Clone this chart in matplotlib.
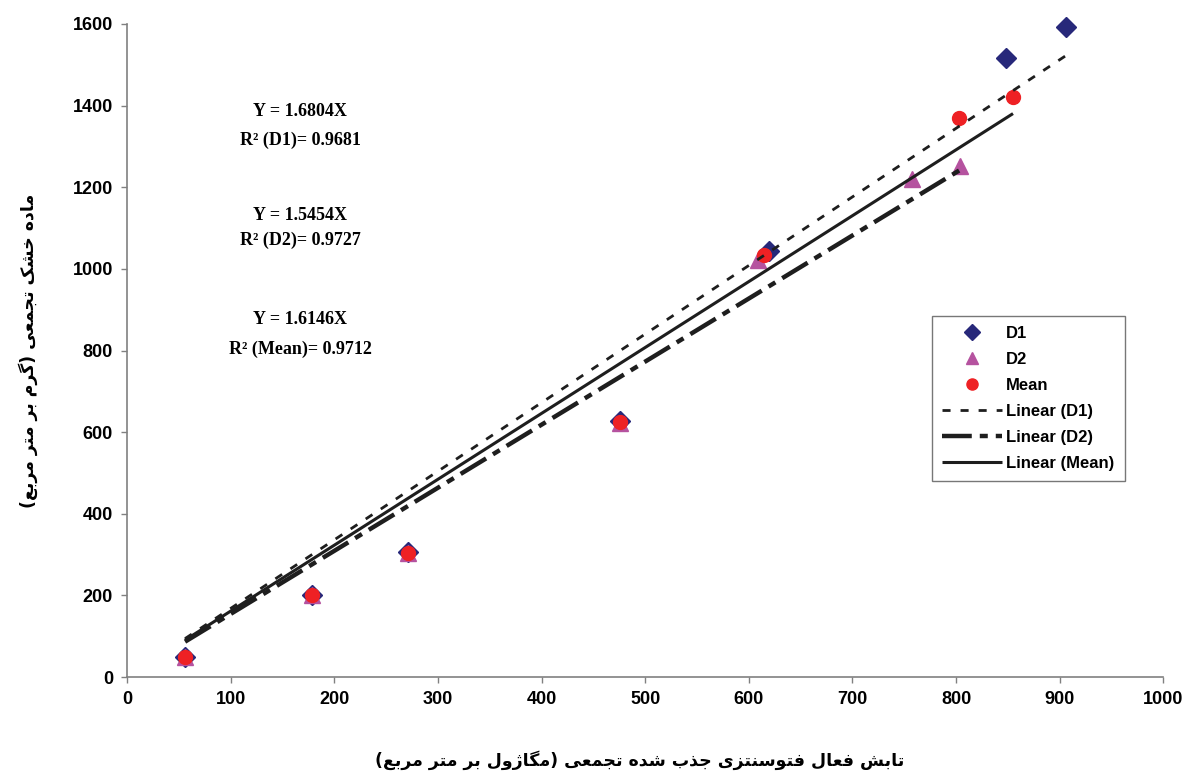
import numpy as np
import matplotlib
matplotlib.use('Agg')
import matplotlib.pyplot as plt

# data
d1_x = [56, 179, 271, 476, 620, 848, 906]
d1_y = [50, 202, 307, 627, 1045, 1517, 1592]
d2_x = [56, 179, 271, 476, 609, 758, 804]
d2_y = [48, 200, 303, 622, 1022, 1220, 1252]
slopes = {'D1': 1.6804, 'D2': 1.5454, 'Mean': 1.6146}
r2 = {'D1': 0.9681, 'D2': 0.9727, 'Mean': 0.9712}
x_ticks = list(range(0, 1001, 100))
y_ticks = list(range(0, 1601, 200))
xlabel = 'تابش فعال فتوسنتزی جذب شده تجمعی (مگاژول بر متر مربع)'
ylabel = 'ماده خشک تجمعی (گرم بر متر مربع)'

mean_x = [(a + b) / 2 for a, b in zip(d1_x, d2_x)]
mean_y = [(a + b) / 2 for a, b in zip(d1_y, d2_y)]

# minimal arabic/persian shaping (matplotlib has no complex text layout)
FORMS = {
    'ا': (0xFE8D, 0xFE8E), 'د': (0xFEA9, 0xFEAA), 'ذ': (0xFEAB, 0xFEAC),
    'ر': (0xFEAD, 0xFEAE), 'ز': (0xFEAF, 0xFEB0), 'ژ': (0xFB8A, 0xFB8B),
    'و': (0xFEED, 0xFEEE),
    'ب': (0xFE8F, 0xFE90, 0xFE91, 0xFE92), 'ت': (0xFE95, 0xFE96, 0xFE97, 0xFE98),
    'ج': (0xFE9D, 0xFE9E, 0xFE9F, 0xFEA0), 'خ': (0xFEA5, 0xFEA6, 0xFEA7, 0xFEA8),
    'س': (0xFEB1, 0xFEB2, 0xFEB3, 0xFEB4), 'ش': (0xFEB5, 0xFEB6, 0xFEB7, 0xFEB8),
    'ع': (0xFEC9, 0xFECA, 0xFECB, 0xFECC), 'ف': (0xFED1, 0xFED2, 0xFED3, 0xFED4),
    'ل': (0xFEDD, 0xFEDE, 0xFEDF, 0xFEE0), 'م': (0xFEE1, 0xFEE2, 0xFEE3, 0xFEE4),
    'ن': (0xFEE5, 0xFEE6, 0xFEE7, 0xFEE8), 'ه': (0xFEE9, 0xFEEA, 0xFEEB, 0xFEEC),
    'ک': (0xFB8E, 0xFB8F, 0xFB90, 0xFB91), 'گ': (0xFB92, 0xFB93, 0xFB94, 0xFB95),
    'ی': (0xFBFC, 0xFBFD, 0xFBFE, 0xFBFF),
}


def shape(text):
    out = []
    for i, c in enumerate(text):
        if c not in FORMS:
            out.append(c)
            continue
        f = FORMS[c]
        prev = text[i - 1] if i > 0 else ''
        nxt = text[i + 1] if i + 1 < len(text) else ''
        jp = prev in FORMS and len(FORMS[prev]) == 4
        jn = len(f) == 4 and nxt in FORMS
        if jp and jn:
            g = f[3]
        elif jp:
            g = f[1]
        elif jn:
            g = f[2]
        else:
            g = f[0]
        out.append(chr(g))
    s = ''.join(out[::-1])
    return s.translate(str.maketrans('()', ')('))


plt.rcParams['font.family'] = ['Liberation Sans', 'DejaVu Sans']
plt.rcParams['font.weight'] = 'bold'

fig = plt.figure(figsize=(11.87, 7.74), dpi=100)
ax = fig.add_axes([0.107, 0.1253, 0.873, 0.8437])

c_d1 = '#27287a'
c_d2 = '#b5529f'
c_mean = '#ee2124'
c_line = '#1e1e1e'

ax.plot(d1_x, d1_y, 'D', color=c_d1, ms=10, zorder=3, label='D1', clip_on=False)
ax.plot(d2_x, d2_y, '^', color=c_d2, ms=11, zorder=4, label='D2', clip_on=False)
ax.plot(mean_x, mean_y, 'o', color=c_mean, ms=10, zorder=5, label='Mean',
        clip_on=False)

for name, xs, ls_kw in [
        ('D1', d1_x, dict(lw=2.0, dashes=(2.9, 3.6))),
        ('D2', d2_x, dict(lw=3.2, dashes=(6.7, 1.8, 1.8, 1.8))),
        ('Mean', mean_x, dict(lw=2.2, linestyle='-'))]:
    xx = np.array([min(xs), max(xs)])
    ax.plot(xx, slopes[name] * xx, color=c_line, zorder=6,
            solid_capstyle='butt', dash_capstyle='butt',
            label='Linear (%s)' % name, **ls_kw)

ax.set_xlim(0, 1000)
ax.set_ylim(0, 1600)
ax.set_xticks(x_ticks)
ax.set_yticks(y_ticks)
for s in ['top', 'right']:
    ax.spines[s].set_visible(False)
for s in ['left', 'bottom']:
    ax.spines[s].set_color('#808080')
    ax.spines[s].set_linewidth(1.2)
ax.tick_params(direction='out', length=4, width=1, color='#808080',
               labelsize=13, pad=6)
for lab in ax.get_xticklabels() + ax.get_yticklabels():
    lab.set_fontweight('bold')

ax.set_xlabel(shape(xlabel), fontsize=12.5, fontweight='bold',
              family=['DejaVu Sans'], va='center')
ax.set_ylabel(shape(ylabel), fontsize=12.5, fontweight='bold',
              family=['DejaVu Sans'], va='center')
ax.xaxis.set_label_coords(0.495, -0.127)
ax.yaxis.set_label_coords(-0.0955, 0.5)

# regression equations
eq_pos = {'D1': (1385, 1316), 'D2': (1132, 1069), 'Mean': (875, 804)}
for name in ['D1', 'D2', 'Mean']:
    y1, y2 = eq_pos[name]
    ax.text(167, y1, 'Y = %.4fX' % slopes[name], ha='center', va='center',
            fontsize=13, fontweight='bold', family='Liberation Serif')
    ax.text(167, y2, 'R² (%s)= %.4f' % (name, r2[name]), ha='center',
            va='center', fontsize=13, fontweight='bold',
            family='Liberation Serif')

leg = ax.legend(loc='upper left', bbox_to_anchor=(0.777, 0.553),
                prop={'weight': 'bold', 'size': 12}, frameon=True,
                fancybox=False, edgecolor='#555555', handlelength=3.6,
                labelspacing=0.66, borderpad=0.6, handletextpad=0.25,
                borderaxespad=0, markerscale=0.8)
leg.get_frame().set_linewidth(1.0)

fig.savefig('out.png', dpi=100)
